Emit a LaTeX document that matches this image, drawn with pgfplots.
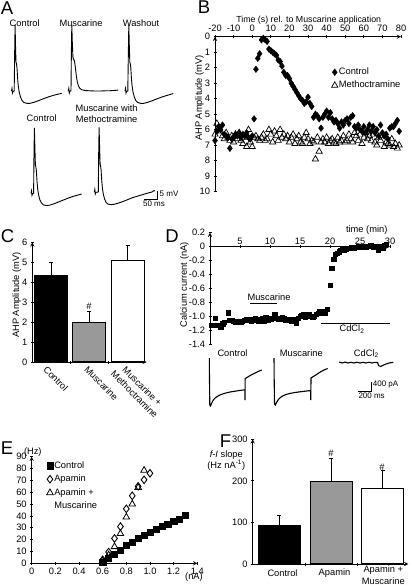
\documentclass[border=0pt]{standalone}
\usepackage{pgfplots}
\pgfplotsset{compat=1.18}
\usepackage{pgfplotstable}
\usepackage{fontspec}
\setmainfont{Liberation Sans}
\newcommand{\fs}{\fontsize{9.3}{10.5}\selectfont}
\newcommand{\fsB}{\fontsize{8.8}{10}\selectfont}
\newcommand{\fsS}{\fontsize{8}{9}\selectfont}
\newcommand{\panelfont}{\fontsize{18.5}{19}\selectfont}
\definecolor{bargray}{gray}{0.6}

\pgfplotsset{
  every axis/.append style={font=\fs, scale only axis,
    /pgf/number format/assume math mode=true,
    axis line style={-, line width=0.9pt},
    tick style={line width=0.8pt, black},
    tick align=outside, major tick length=3pt},
}

\pgfplotstableread{
t v
-20 6.7
-19 6.1
-18 5.8
-17 6.0
-16 5.7
-15 6.3
-14 6.4
-13 6.5
-12 7.2
-11 6.6
-10 6.5
-9 6.3
-8 6.4
-7 6.2
-6 6.5
-5 6.3
-4 6.4
-3 6.2
-2 6.5
-1 6.6
0 6.4
1 5.3
2 2.1
3 1.4
4 1.1
5 0.2
6 0.1
7 0.2
8 0.3
9 0.8
10 0.9
11 1.0
12 1.1
13 1.2
14 1.5
15 1.6
16 1.9
17 2.3
18 2.5
19 2.5
20 2.7
21 3.0
22 3.2
23 3.4
24 3.6
25 3.8
26 4.0
27 4.1
28 4.3
29 4.2
30 3.9
31 4.3
32 4.5
33 5.2
34 5.0
35 5.1
36 5.3
37 5.9
38 5.2
39 5.0
40 4.8
41 5.2
42 4.9
43 5.3
44 5.5
45 5.4
46 5.6
47 5.9
48 5.5
49 5.7
50 5.4
51 5.3
52 5.6
53 5.2
54 5.1
55 5.8
56 5.9
57 5.7
58 6.0
59 6.1
60 5.8
61 6.2
62 6.0
63 5.7
64 6.1
65 5.8
66 6.2
67 6.0
68 6.4
69 5.7
70 6.2
71 6.4
72 6.3
73 6.6
74 5.9
75 5.8
76 5.8
77 5.6
78 5.4
79 6.1
}\ctrlB

\pgfplotstableread{
t v
-20 6.3
-19 5.6
-18 5.9
-17 6.1
-16 6.4
-15 6.6
-14 6.2
-13 6.5
-12 6.7
-11 6.4
-10 6.8
-9 6.3
-8 6.6
-7 6.2
-6 6.7
-5 6.9
-4 6.5
-3 7.1
-2 6.0
-1 6.8
0 7.1
1 6.5
2 6.4
3 6.6
4 6.7
5 6.5
6 6.3
7 6.7
8 6.6
9 6.0
10 6.3
11 6.8
12 6.1
13 6.4
14 6.7
15 6.0
16 6.5
17 6.3
18 6.6
19 6.4
20 6.8
21 6.5
22 6.3
23 6.9
24 6.6
25 6.4
26 6.8
27 6.9
28 6.5
29 6.2
30 6.6
31 6.9
32 6.7
33 6.8
34 7.9
35 6.5
36 7.4
37 6.8
38 6.6
39 6.8
40 6.5
41 6.9
42 6.7
43 6.6
44 6.8
45 6.9
46 6.5
47 6.8
48 6.7
49 6.4
50 6.8
51 6.7
52 6.3
53 6.6
54 6.8
55 6.2
56 6.4
57 6.7
58 6.3
59 6.9
60 6.5
61 6.2
62 6.6
63 6.4
64 6.7
65 6.3
66 6.8
67 7.0
68 6.5
69 6.7
70 6.4
71 7.1
72 6.8
73 6.9
74 7.0
75 6.6
76 7.1
77 6.9
78 7.2
79 7.0
}\methB

\pgfplotstableread{
t i
0.3 -1.12
0.6 -1.12
0.9 -1.02
1.2 -1.12
1.5 -1.12
1.8 -1.15
2.1 -1.10
2.4 -1.08
3.0 -0.94
3.3 -1.05
3.6 -1.05
3.9 -1.06
4.2 -1.07
4.5 -1.08
4.8 -1.08
5.1 -1.07
5.4 -1.06
5.7 -1.05
6.0 -1.04
6.3 -1.05
6.6 -1.04
6.9 -1.06
7.2 -1.04
7.5 -1.03
7.8 -1.05
8.1 -1.06
8.4 -1.04
8.7 -1.03
9.0 -1.06
9.3 -1.01
9.6 -1.04
9.9 -1.02
10.2 -1.03
10.5 -1.02
10.8 -0.97
11.1 -1.02
11.4 -1.03
11.7 -1.02
12.0 -1.01
12.3 -1.03
12.6 -1.04
12.9 -1.05
13.2 -1.04
13.5 -1.06
13.8 -1.04
14.1 -1.05
14.4 -1.09
14.7 -1.02
15.0 -0.99
15.3 -0.98
15.6 -0.97
15.9 -1.00
16.2 -0.98
16.5 -0.97
16.8 -0.99
17.1 -1.00
17.4 -0.99
17.7 -0.96
18.0 -0.95
18.3 -0.92
18.6 -0.94
18.9 -0.92
19.2 -0.95
19.5 -0.89
20.0 -0.55
20.3 -0.31
20.6 -0.18
20.9 -0.11
21.2 -0.09
21.5 -0.07
21.8 -0.05
22.1 -0.04
22.4 -0.04
22.7 -0.03
23.0 -0.02
23.3 -0.02
23.6 -0.01
24.0 -0.02
24.4 -0.01
24.8 0.00
25.2 -0.01
25.6 0.01
26.0 0.00
26.4 0.01
26.8 0.02
27.2 0.00
27.6 0.01
28.0 -0.05
28.4 0.01
28.8 -0.02
29.1 0.02
29.4 0.04
}\dataD

\begin{document}
\begin{tikzpicture}

% ---------- overlay axis (pixel units) for raw traces and scale bars ----------
\begin{axis}[at={(0pt,-585pt)}, anchor=south west, width=409pt, height=585pt,
  xmin=0, xmax=409, ymin=0, ymax=585, y dir=reverse, hide axis, clip=false]
% Panel A traces
\addplot[black, line width=0.9pt] coordinates {(11.5,91)(12,88.5)(12.5,93)(13.2,91.3)(14.2,91)(14.7,50)(15.1,25)(15.5,45)(16,62)(16.5,64)(17,68)(17.6,78)(18.3,86)(19.2,92)(20.5,97)(22,100.5)(24,102.5)(27,103.4)(30,103.3)(34,102.3)(39,100.5)(44,98.5)(49,96.7)(54,95.2)(58,94.2)(61.7,93.3)};
\addplot[black, line width=0.9pt] coordinates {(68.3,91)(68.8,88.5)(69.3,93)(70,91)(71,90.8)(71.4,50)(71.8,25)(72.3,42)(72.9,57)(73.5,59)(74.5,61)(75.3,67)(76.2,75)(77.3,82)(78.5,86)(80,88.5)(82,89.8)(85,90.5)(90,90.8)(95,91)(100,91)(105,90.8)(110,90.7)(115,90.4)(118.3,90)};
\addplot[black, line width=0.9pt] coordinates {(125,91)(125.5,88.5)(126,93)(126.7,91.3)(127.8,91)(128.4,50)(128.8,25)(129.3,45)(129.8,62)(130.3,64)(130.8,68)(131.4,78)(132.1,86)(133,92)(134.3,97)(135.8,100.5)(137.8,102.5)(140.8,103.4)(143.8,103.3)(147.8,102.3)(152.8,100.5)(157.8,98.5)(162.8,96.7)(167.8,95.2)(173.3,93.5)};
\addplot[black, line width=0.9pt] coordinates {(31,193.3)(31.5,190.8)(32,195.3)(32.7,193.6)(33.6,193.3)(34,153)(34.4,128)(34.9,148)(35.4,165)(35.9,167)(36.4,171)(37,181)(37.7,189)(38.6,195)(39.9,200)(41.4,203)(43.4,205)(46.4,205.5)(49.4,205.2)(53.4,204)(58.4,202)(63.4,200)(68.4,198)(73.4,196.3)(78,195)(81.7,194)};
\addplot[black, line width=0.9pt] coordinates {(94.3,192)(94.8,189.5)(95.3,194)(96,192.3)(98.3,192)(98.7,152)(99.1,127.5)(99.6,147)(100.1,164)(100.6,166)(101.1,170)(101.7,180)(102.4,188)(103.3,194)(104.6,199)(106.1,202.5)(108.1,204.2)(111.1,204.6)(114.1,204.3)(118.1,203.2)(123,201.5)(128,199.5)(133,197.5)(138,196)(143,194.5)(148,193)(152,192)(154,190.5)(155,191)};
% scale bar A
\addplot[black, line width=0.8pt] coordinates {(144,199.3)(157.3,199.3)(157.3,190.7)};
% Panel D traces
\addplot[black, line width=1.1pt] coordinates {(209.3,358)(209.5,380)(209.8,405)(210.5,406)(211.5,403.5)(213,400.5)(215,398)(218,396)(221,394.5)(225,393.2)(230,392)(235,391.2)(240,390.4)(244.8,389.8)(245,400)(245.2,378.5)(246.5,377.8)(249,376.2)(252,374.5)(255,373)(258,371.5)(261.7,370)};
\addplot[black, line width=1.1pt] coordinates {(274,358)(274.2,380)(274.5,404)(275.3,405)(276.5,402.5)(278,400)(280,397.8)(283,395.8)(286,394.5)(290,393.4)(295,392.5)(300,391.8)(305,391.2)(310.5,390.5)(310.8,400)(311,378)(312.5,377)(315,375.5)(318,373.5)(321,371.5)(324,370)(327.7,368.5)};
\addplot[black, line width=1.1pt] coordinates {(339.3,362)(342,363)(345,362)(348,363)(351,362.3)(354,363)(357,362.2)(360,363)(363,362.3)(366,363)(369,362.2)(372,363)(375,362.3)(377.5,362.5)(378.5,365.5)(380.5,366.5)(383,365.3)(386,364)(389,363)(393.3,362.3)};
% scale bar D
\addplot[black, line width=0.8pt] coordinates {(358.3,391)(371.7,391)(371.7,381.7)};
\end{axis}

% ---------- Panel B ----------
\begin{axis}[at={(215pt,-191.7pt)}, anchor=south west, width=186pt, height=155pt,
  xmin=-20, xmax=80, ymin=-10, ymax=0,
  axis x line=top, axis y line=left,
  xtick={-20,-10,0,10,20,30,40,50,60,70,80},
  ytick={-10,-9,-8,-7,-6,-5,-4,-3,-2,-1,0},
  yticklabels={10,9,8,7,6,5,4,3,2,1,0},
  clip=false,
  legend style={at={(0.626,0.806)}, anchor=north west, draw=none, fill=none,
    font=\fs, row sep=2.5pt, inner sep=0pt, nodes={inner sep=1pt, text height=6.8pt, text depth=1.8pt}},
  legend cell align=left,
  legend image code/.code={\draw[mark repeat=2,mark phase=2,#1] plot coordinates {(0pt,0pt) (3.5pt,0pt) (7pt,0pt)};}]
\addplot[only marks, mark=diamond*, mark size=3.3pt, black] table[x=t, y expr=-\thisrow{v}] {\ctrlB};
\addlegendentry{Control}
\addplot[only marks, mark=triangle, mark size=3.6pt, mark options={black, line width=0.7pt}] table[x=t, y expr=-\thisrow{v}] {\methB};
\addlegendentry{Methoctramine}
\end{axis}

% ---------- Panel C ----------
\begin{axis}[at={(32.3pt,-362pt)}, anchor=south west, width=114.4pt, height=119.7pt,
  xmin=-0.488, xmax=2.496, ymin=0, ymax=6,
  axis x line=bottom, axis y line=left,
  xtick={0.5,1.5,2.5}, xticklabels={}, ytick={0,1,2,3,4,5,6}, clip=false,
  error bars/error bar style={line width=1pt, black},
  error bars/error mark options={line width=1pt, mark size=2pt, black, rotate=90}]
\addplot[ybar, bar width=33pt, bar shift=0pt, fill=black, draw=black, line width=1.1pt,
  error bars/.cd, y dir=plus, y explicit] coordinates {(0,4.33) +- (0,0.68)};
\addplot[ybar, bar width=33pt, bar shift=0pt, fill=bargray, draw=black, line width=1.1pt,
  error bars/.cd, y dir=plus, y explicit] coordinates {(1,2.0) +- (0,0.52)};
\addplot[ybar, bar width=33pt, bar shift=0pt, fill=white, draw=black, line width=1.1pt,
  error bars/.cd, y dir=plus, y explicit] coordinates {(2,5.07) +- (0,0.78)};
\end{axis}

% ---------- Panel D ----------
\begin{axis}[at={(210pt,-344.7pt)}, anchor=south west, width=180pt, height=112pt,
  xmin=0, xmax=30, ymin=-1.4, ymax=0.2,
  axis x line=middle, axis y line=left,
  xtick={5,10,15,20,25,30}, xticklabel style={anchor=south, yshift=0.5pt},
  ytick={-1.4,-1.2,-1.0,-0.8,-0.6,-0.4,-0.2,0,0.2},
  yticklabels={-1.4,-1.2,-1.0,-0.8,-0.6,-0.4,-0.2,0,0.2},
  clip=false]
\addplot[only marks, mark=square*, mark size=2.2pt, black] table[x=t, y=i] {\dataD};
\addplot[black, line width=1.2pt] coordinates {(6.7,-0.81) (11.1,-0.81)};
\addplot[black, line width=1.2pt] coordinates {(18.5,-1.095) (30,-1.095)};
\end{axis}

% ---------- Panel E ----------
\begin{axis}[at={(31.7pt,-563.3pt)}, anchor=south west, width=165.6pt, height=106.6pt,
  xmin=0, xmax=1.4, ymin=0, ymax=90,
  axis x line=bottom, axis y line=left,
  xtick={0,0.2,0.4,0.6,0.8,1.0,1.2,1.4},
  xticklabels={0,0.2,0.4,0.6,0.8,1.0,1.2,1.4},
  ytick={0,10,20,30,40,50,60,70,80,90}, clip=false,
  legend style={at={(0.088,0.968)}, anchor=north west, draw=none, fill=none,
    font=\fs, row sep=3pt, inner sep=0pt, nodes={inner sep=1pt, text height=6.8pt, text depth=1.8pt}},
  legend cell align=left,
  legend image code/.code={\draw[mark repeat=2,mark phase=2,#1] plot coordinates {(0pt,0pt) (3.5pt,0pt) (7pt,0pt)};}]
\addplot[only marks, mark=square*, mark size=3.1pt, black] coordinates {
(0.60,1) (0.65,4) (0.70,7.5) (0.75,11) (0.80,15.5) (0.85,18) (0.90,21) (0.95,24) (1.00,26) (1.05,28.5) (1.10,31) (1.15,33) (1.20,35.5) (1.25,37.5) (1.30,40.5)};
\addlegendentry{Control}
\addplot[only marks, mark=diamond, mark size=3.8pt, mark options={black, line width=0.9pt}] coordinates {
(0.60,3) (0.65,9.5) (0.70,21) (0.75,31) (0.80,46) (0.85,57) (0.90,65) (0.95,70.5) (1.00,76)};
\addlegendentry{Apamin}
\addplot[only marks, mark=triangle, mark size=3.8pt, mark options={black, line width=0.8pt}] coordinates {
(0.60,2) (0.65,7) (0.70,14) (0.75,25) (0.80,39) (0.85,50) (0.90,64) (0.95,78.5)};
\addlegendentry{Apamin +}
\addlegendimage{empty legend}
\addlegendentry{Muscarine}
\end{axis}

% ---------- Panel F ----------
\begin{axis}[at={(252.7pt,-564pt)}, anchor=south west, width=155.6pt, height=124.7pt,
  xmin=-0.518, xmax=2.493, ymin=0, ymax=300,
  axis x line=bottom, axis y line=left,
  xtick={0.5,1.5,2.5}, xticklabels={}, ytick={0,100,200,300}, clip=false,
  error bars/error bar style={line width=1pt, black},
  error bars/error mark options={line width=1pt, mark size=2pt, black, rotate=90}]
\addplot[ybar, bar width=42pt, bar shift=0pt, fill=black, draw=black, line width=1.1pt,
  error bars/.cd, y dir=plus, y explicit] coordinates {(0,92) +- (0,25)};
\addplot[ybar, bar width=42pt, bar shift=0pt, fill=bargray, draw=black, line width=1.1pt,
  error bars/.cd, y dir=plus, y explicit] coordinates {(1,198) +- (0,56)};
\addplot[ybar, bar width=42pt, bar shift=0pt, fill=white, draw=black, line width=1.1pt,
  error bars/.cd, y dir=plus, y explicit] coordinates {(2,182) +- (0,42)};
\end{axis}

% ---------- text ----------
\begin{scope}[x=1pt, y=-1pt, every node/.style={inner sep=0pt, font=\fs}]
% panel letters
\node[font=\panelfont] at (7,8.5) {A};
\node[font=\panelfont] at (204,7.5) {B};
\node[font=\panelfont] at (7.5,236.5) {C};
\node[font=\panelfont] at (172,236.5) {D};
\node[font=\panelfont] at (7,448.5) {E};
\node[font=\panelfont] at (225.5,441) {F};
% A
\node at (24.7,23.3) {Control};
\node at (81,23.3) {Muscarine};
\node at (141,23.3) {Washout};
\node at (41.7,117.7) {Control};
\node[align=center, font=\fontsize{9.3}{10.7}\selectfont] at (106.6,113.6) {Muscarine with\\Methoctramine};
\node[font=\fsS, anchor=west] at (159.5,193.3) {5 mV};
\node[font=\fsS] at (154,203.8) {50 ms};
% B
\node[font=\fsB] at (308.7,20) {Time (s) rel. to Muscarine application};
\node[rotate=90] at (199.5,98) {AHP Amplitude (mV)};
% C
\node[rotate=90] at (16.7,295) {AHP Amplitude (mV)};
\node at (89,306.5) {\#};
\node[rotate=-45, anchor=west] at (45,368) {Control};
\node[rotate=-45, anchor=west] at (86,368) {Muscarine};
\node[rotate=-45, anchor=north west, align=center, font=\fontsize{9.3}{11}\selectfont] at (123,362) {Muscarine +\\Methoctramine};
% D
\node at (366.7,230) {time (min)};
\node[rotate=90] at (184.5,285) {Calcium current (nA)};
\node at (269,297.5) {Muscarine};
\node at (352,329) {CdCl\textsubscript{2}};
\node at (232.5,353.3) {Control};
\node at (301.3,353.3) {Muscarine};
\node at (366.3,353.8) {CdCl\textsubscript{2}};
\node[font=\fsS, anchor=west] at (372.7,384.3) {400 pA};
\node[font=\fsS, anchor=west] at (358.3,395.5) {200 ms};
% E
\node at (32.8,452.5) {(Hz)};
\node at (194,577.3) {(nA)};
% F
\node[align=center, font=\fontsize{9.3}{11}\selectfont] at (226.3,460.5) {\textit{f-I} slope\\(Hz nA\textsuperscript{-1})};
\node at (331,453.3) {\#};
\node at (382,467.3) {\#};
\node at (282.5,573.3) {Control};
\node at (334.5,573.3) {Apamin};
\node[align=center, font=\fontsize{9.3}{11.5}\selectfont] at (383.3,575.4) {Apamin +\\Muscarine};
\end{scope}

\pgfresetboundingbox
\path[use as bounding box] (0pt,0pt) rectangle (409pt,-585pt);
\end{tikzpicture}
\end{document}
